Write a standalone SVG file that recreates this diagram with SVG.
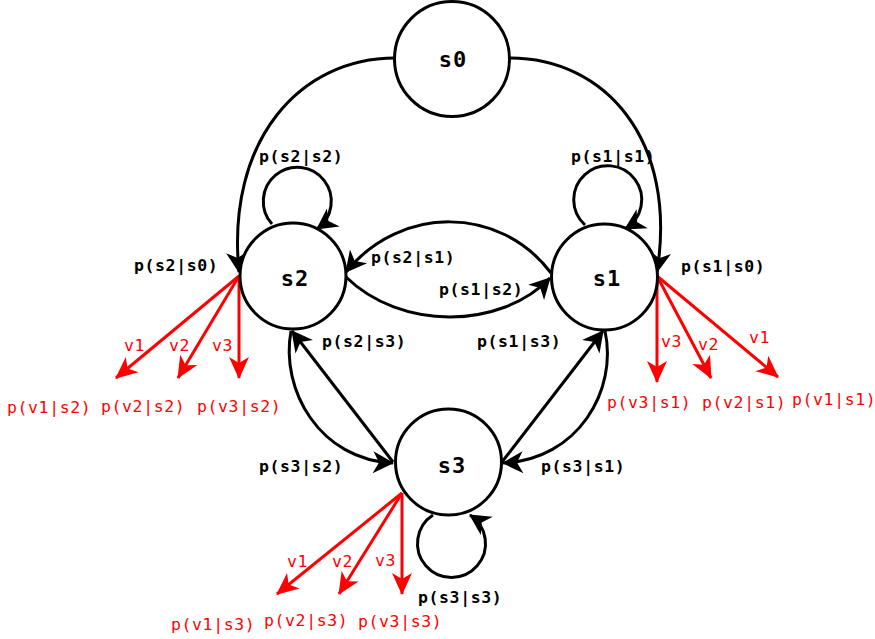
<svg xmlns="http://www.w3.org/2000/svg" width="875" height="639" viewBox="0 0 875 639">
<style>
.node{fill:#fff;stroke:#000;stroke-width:3}
.nl{font-family:"DejaVu Sans Mono",monospace;font-weight:bold;font-size:22px;letter-spacing:1px;text-anchor:middle;fill:#000}
.el{fill:none;stroke:#000;stroke-width:3}
.rl{fill:none;stroke:#f00;stroke-width:3}
.bt{font-family:"DejaVu Sans Mono",monospace;font-weight:bold;font-size:16.5px;letter-spacing:0.6px;fill:#000}
.rt{font-family:"DejaVu Sans Mono",monospace;font-size:16.5px;letter-spacing:0.6px;fill:#f00}
</style>
<defs>
<marker id="ab" markerUnits="userSpaceOnUse" markerWidth="24" markerHeight="24" refX="22" refY="12" orient="auto">
<path d="M23,12 L2,1 L8,12 L2,23 Z" fill="#000"/>
</marker>
<marker id="ar" markerUnits="userSpaceOnUse" markerWidth="24" markerHeight="24" refX="22" refY="12" orient="auto">
<path d="M23,12 L1,2 L7,12 L1,22 Z" fill="#f00"/>
</marker>
</defs>
<g id="connectors">
<path class="el" d="M395,58 C300,58 226,140 239,272" marker-end="url(#ab)"/>
<path class="el" d="M510,58 C605,58 678,140 657,272" marker-end="url(#ab)"/>
<path class="el" d="M272,224 A34,34 0 1 1 317,229" marker-end="url(#ab)"/>
<path class="el" d="M585,225 A34,34 0 1 1 625,229" marker-end="url(#ab)"/>
<path class="el" d="M433,515 A34,34 0 1 0 470,515" marker-end="url(#ab)"/>
<path class="el" d="M551,273 C500,205 400,205 346,272" marker-end="url(#ab)"/>
<path class="el" d="M346,277 C400,330 500,330 550,278" marker-end="url(#ab)"/>
<path class="el" d="M393,462 L292,331" marker-end="url(#ab)"/>
<path class="el" d="M502,462 L603,331" marker-end="url(#ab)"/>
<path class="el" d="M291,331 C280,390 320,460 393,463" marker-end="url(#ab)"/>
<path class="el" d="M605,331 C618,390 578,460 503,463" marker-end="url(#ab)"/>
<path class="rl" d="M239,276 L116,378" marker-end="url(#ar)"/>
<path class="rl" d="M239,276 L178,378" marker-end="url(#ar)"/>
<path class="rl" d="M239,276 L239,378" marker-end="url(#ar)"/>
<path class="rl" d="M657,276 L657,382" marker-end="url(#ar)"/>
<path class="rl" d="M657,276 L711,378" marker-end="url(#ar)"/>
<path class="rl" d="M657,276 L778,377" marker-end="url(#ar)"/>
<path class="rl" d="M402,493 L277,594" marker-end="url(#ar)"/>
<path class="rl" d="M402,493 L339,594" marker-end="url(#ar)"/>
<path class="rl" d="M402,493 L402,594" marker-end="url(#ar)"/>
</g>
<g id="s0"><circle class="node" cx="452" cy="59" r="57.5"/><text class="nl" x="453" y="67">s0</text></g>
<g id="s2"><circle class="node" cx="293" cy="276" r="53"/><text class="nl" x="295" y="286">s2</text></g>
<g id="s1"><circle class="node" cx="604.5" cy="277" r="53"/><text class="nl" x="607" y="286">s1</text></g>
<g id="s3"><circle class="node" cx="448.5" cy="462" r="53"/><text class="nl" x="452" y="473">s3</text></g>
<g id="labels">
<text class="bt" x="259" y="162">p(s2|s2)</text>
<text class="bt" x="571" y="162">p(s1|s1)</text>
<text class="bt" x="371" y="263">p(s2|s1)</text>
<text class="bt" x="439" y="295">p(s1|s2)</text>
<text class="bt" x="134" y="271">p(s2|s0)</text>
<text class="bt" x="681" y="272">p(s1|s0)</text>
<text class="bt" x="322" y="347">p(s2|s3)</text>
<text class="bt" x="477" y="347">p(s1|s3)</text>
<text class="bt" x="259" y="472">p(s3|s2)</text>
<text class="bt" x="541" y="472">p(s3|s1)</text>
<text class="bt" x="418" y="603">p(s3|s3)</text>
<text class="rt" x="124" y="351">v1</text>
<text class="rt" x="169" y="351">v2</text>
<text class="rt" x="212" y="351">v3</text>
<text class="rt" x="661" y="347">v3</text>
<text class="rt" x="698" y="350">v2</text>
<text class="rt" x="749" y="343">v1</text>
<text class="rt" x="287" y="567">v1</text>
<text class="rt" x="332" y="567">v2</text>
<text class="rt" x="375" y="566">v3</text>
<text class="rt" x="7" y="413">p(v1|s2)</text>
<text class="rt" x="101" y="412">p(v2|s2)</text>
<text class="rt" x="197" y="412">p(v3|s2)</text>
<text class="rt" x="607" y="408">p(v3|s1)</text>
<text class="rt" x="702" y="408">p(v2|s1)</text>
<text class="rt" x="792" y="405">p(v1|s1)</text>
<text class="rt" x="171" y="630">p(v1|s3)</text>
<text class="rt" x="264" y="626">p(v2|s3)</text>
<text class="rt" x="358" y="627">p(v3|s3)</text>
</g>
</svg>
